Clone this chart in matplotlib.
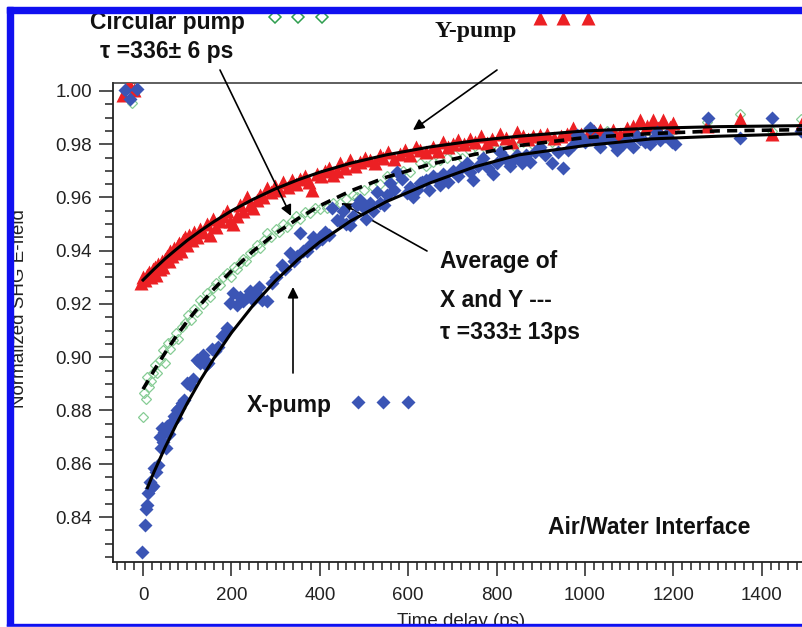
import matplotlib
matplotlib.use("Agg")
import matplotlib.pyplot as plt
from matplotlib.lines import Line2D
from matplotlib.patches import Rectangle
from matplotlib.ticker import MultipleLocator

plt.rcParams['font.family'] = ['Liberation Sans', 'DejaVu Sans']

# ---- data ----
# Y-pump (red triangles)
t_ypump = [-45, -32, -20, -5, 0, 5, 10, 14, 18, 22, 27, 30, 34, 38, 42, 46, 50, 54, 58, 62, 66, 70, 74, 78, 82,
           86, 90, 95, 100, 105, 110, 115, 122, 129, 136, 145, 152, 158, 165, 174, 182, 190, 197, 204, 212,
           219, 226, 235, 242, 249, 257, 265, 272, 280, 290, 299, 308, 317, 327, 337, 346, 355, 366, 375,
           382, 394, 403, 412, 421, 430, 438, 446, 457, 468, 480, 491, 502, 513, 525, 535, 543, 555, 568,
           581, 592, 605, 617, 627, 640, 656, 667, 679, 690, 702, 713, 727, 740, 752, 765, 778, 790, 808,
           822, 835, 846, 860, 870, 882, 898, 914, 930, 945, 959, 973, 990, 1005, 1020, 1034, 1050, 1063,
           1080, 1095, 1109, 1124, 1140, 1154, 1165, 1177, 1192, 1200, 1276, 1350, 1423, 1490]
v_ypump = [0.9985, 1.0026, 1.0005, 0.928, 0.930, 0.929, 0.931, 0.932, 0.930, 0.933, 0.934, 0.931, 0.935, 0.933,
           0.936, 0.934, 0.937, 0.938, 0.936, 0.940, 0.938, 0.941, 0.939, 0.942, 0.943, 0.940, 0.944, 0.945,
           0.942, 0.946, 0.944, 0.947, 0.945, 0.948, 0.947, 0.950, 0.946, 0.952, 0.949, 0.951, 0.953, 0.955,
           0.951, 0.950, 0.953, 0.957, 0.955, 0.960, 0.957, 0.956, 0.959, 0.961, 0.960, 0.9635, 0.962, 0.9645,
           0.963, 0.966, 0.964, 0.9665, 0.965, 0.967, 0.968, 0.966, 0.963, 0.969, 0.968, 0.970, 0.971, 0.9685,
           0.970, 0.973, 0.971, 0.974, 0.972, 0.9735, 0.975, 0.974, 0.973, 0.976, 0.975, 0.977, 0.9745, 0.9765,
           0.978, 0.976, 0.979, 0.978, 0.977, 0.979, 0.9775, 0.981, 0.979, 0.980, 0.9815, 0.980, 0.982, 0.981,
           0.983, 0.9805, 0.982, 0.984, 0.9825, 0.981, 0.9845, 0.983, 0.982, 0.983, 0.9835, 0.984, 0.9825,
           0.983, 0.984, 0.986, 0.984, 0.983, 0.985, 0.9855, 0.984, 0.9855, 0.984, 0.986, 0.987, 0.989, 0.987,
           0.989, 0.986, 0.989, 0.9865, 0.988, 0.987, 0.9895, 0.984, 0.988]

# X-pump (blue diamonds)
t_xpump = [-41, -29, -14, -2, 4, 6, 9, 11, 15, 18, 22, 25, 30, 34, 38, 40, 43, 45, 48, 52, 55, 58, 62, 66, 70,
           74, 77, 82, 88, 93, 99, 106, 112, 122, 129, 136, 142, 147, 155, 162, 170, 178, 185, 190, 197, 204,
           212, 219, 227, 235, 243, 249, 256, 263, 270, 280, 291, 300, 314, 322, 333, 341, 348, 355, 362, 371,
           378, 385, 392, 400, 405, 412, 420, 427, 439, 446, 452, 460, 468, 476, 484, 491, 500, 505, 513, 520,
           529, 537, 545, 552, 559, 567, 575, 585, 597, 605, 611, 620, 627, 631, 641, 648, 656, 665, 672, 679,
           690, 701, 712, 720, 733, 740, 747, 758, 769, 780, 792, 800, 808, 820, 830, 837, 847, 857, 866, 876,
           887, 898, 910, 925, 938, 950, 962, 975, 982, 989, 1000, 1011, 1022, 1034, 1043, 1052, 1062, 1072,
           1085, 1095, 1109, 1117, 1124, 1135, 1147, 1155, 1163, 1170, 1180, 1186, 1196, 1204, 1278, 1350,
           1423, 1488]
v_xpump = [1.0004, 0.997, 1.0008, 0.827, 0.837, 0.843, 0.8445, 0.849, 0.853, 0.851, 0.8515, 0.8585, 0.857,
           0.8595, 0.870, 0.866, 0.8735, 0.868, 0.872, 0.866, 0.874, 0.871, 0.875, 0.8755, 0.878, 0.877, 0.880,
           0.881, 0.883, 0.884, 0.8905, 0.8895, 0.892, 0.899, 0.898, 0.901, 0.897, 0.898, 0.903, 0.9025, 0.904,
           0.908, 0.909, 0.911, 0.9205, 0.924, 0.9195, 0.9225, 0.921, 0.9227, 0.925, 0.9215, 0.924, 0.9265,
           0.9215, 0.921, 0.928, 0.930, 0.9346, 0.933, 0.939, 0.936, 0.938, 0.9467, 0.940, 0.940, 0.942, 0.945,
           0.943, 0.945, 0.9445, 0.947, 0.946, 0.956, 0.9515, 0.951, 0.955, 0.950, 0.9497, 0.953, 0.957, 0.959,
           0.956, 0.952, 0.958, 0.955, 0.962, 0.958, 0.957, 0.961, 0.9654, 0.963, 0.9696, 0.967, 0.9617, 0.964,
           0.960, 0.963, 0.9655, 0.966, 0.9665, 0.963, 0.968, 0.967, 0.9647, 0.969, 0.966, 0.970, 0.968, 0.971,
           0.973, 0.9695, 0.9666, 0.972, 0.975, 0.971, 0.969, 0.973, 0.977, 0.975, 0.972, 0.974, 0.976, 0.973,
           0.976, 0.9733, 0.977, 0.979, 0.976, 0.973, 0.977, 0.971, 0.978, 0.980, 0.9835, 0.983, 0.981, 0.986,
           0.982, 0.979, 0.982, 0.984, 0.981, 0.978, 0.980, 0.9816, 0.979, 0.983, 0.982, 0.981, 0.980, 0.9825,
           0.9846, 0.9816, 0.983, 0.983, 0.981, 0.980, 0.990, 0.9825, 0.990, 0.985]

# Circular pump (open green diamonds)
t_circ = [-30, -25, 0, 3, 6, 9, 13, 18, 22, 27, 32, 38, 45, 50, 57, 62, 68, 74, 80, 88, 95, 102, 108, 115, 122,
          129, 136, 145, 152, 158, 165, 174, 182, 190, 198, 205, 212, 219, 227, 234, 241, 249, 257, 265, 273,
          280, 290, 300, 308, 317, 326, 337, 346, 355, 366, 378, 389, 400, 416, 430, 446, 460, 475, 484, 500,
          520, 535, 552, 570, 588, 605, 627, 640, 656, 672, 688, 705, 722, 740, 760, 780, 800, 820, 840, 860,
          880, 900, 925, 950, 975, 1000, 1025, 1050, 1075, 1100, 1125, 1150, 1175, 1200, 1276, 1350, 1423, 1488]
v_circ = [0.9985, 0.9955, 0.8776, 0.8866, 0.8845, 0.8926, 0.889, 0.891, 0.894, 0.897, 0.894, 0.899, 0.9027,
          0.898, 0.9054, 0.903, 0.9065, 0.909, 0.907, 0.9114, 0.913, 0.9159, 0.914, 0.918, 0.917, 0.9215, 0.920,
          0.924, 0.9225, 0.926, 0.928, 0.927, 0.930, 0.9316, 0.930, 0.934, 0.933, 0.9354, 0.937, 0.936, 0.939,
          0.940, 0.942, 0.941, 0.944, 0.9467, 0.945, 0.948, 0.947, 0.950, 0.949, 0.951, 0.953, 0.952, 0.9545,
          0.954, 0.956, 0.9555, 0.956, 0.958, 0.958, 0.9595, 0.961, 0.960, 0.963, 0.964, 0.965, 0.968, 0.967,
          0.970, 0.9695, 0.973, 0.972, 0.9733, 0.974, 0.975, 0.976, 0.975, 0.9775, 0.977, 0.979, 0.978, 0.980,
          0.9795, 0.981, 0.980, 0.982, 0.981, 0.983, 0.982, 0.984, 0.983, 0.985, 0.9835, 0.985, 0.986, 0.9845,
          0.9875, 0.9855, 0.9885, 0.9915, 0.985, 0.9895]

# fitted curves
t_fit = [0, 25, 50, 75, 100, 130, 160, 200, 250, 300, 350, 400, 470, 550, 650, 750, 850, 1000, 1150, 1300, 1500]
fit_ypump = [0.929, 0.9331, 0.9370, 0.9405, 0.9439, 0.9475, 0.9509, 0.9550, 0.9594, 0.9633, 0.9666, 0.9695,
             0.9729, 0.9760, 0.9790, 0.9813, 0.9830, 0.9850, 0.9860, 0.9866, 0.9870]
fit_avg = [0.888, 0.8951, 0.9017, 0.9079, 0.9135, 0.9198, 0.9256, 0.9324, 0.9400, 0.9465, 0.9520, 0.9569,
           0.9625, 0.9676, 0.9725, 0.9762, 0.9795, 0.9825, 0.9840, 0.9850, 0.9855]
t_fit_x = [10, 25, 50, 75, 100, 130, 160, 200, 250, 300, 350, 400, 470, 550, 650, 750, 850, 1000, 1150, 1300, 1500]
fit_xpump = [0.851, 0.857, 0.8662, 0.8747, 0.8827, 0.8915, 0.8995, 0.9092, 0.9197, 0.9288, 0.9366, 0.9433,
             0.9512, 0.9584, 0.9655, 0.9715, 0.9760, 0.9795, 0.9820, 0.9830, 0.9840]

W, H = 803, 627


def fx(x):
    return x / W


def fy(y):
    return 1 - y / H


red = '#ec2024'
blue = '#3b55b5'
green_light = '#86cc94'
green_dark = '#2f9e50'

fig = plt.figure(figsize=(W / 100, H / 100), dpi=100)
ax = fig.add_axes([fx(113), fy(562), (806 - 113) / W, (562 - 83) / H])

ax.plot(t_circ, v_circ, 'D', ms=5.2, mfc='none', mec=green_light, mew=0.9, zorder=2)
ax.plot(t_ypump, v_ypump, '^', ms=9.5, color=red, mec='none', zorder=3)
ax.plot(t_xpump, v_xpump, 'D', ms=7.2, color=blue, mec='none', zorder=4)

ax.plot(t_fit, fit_ypump, '-', color='k', lw=2.2, zorder=5)
ax.plot(t_fit_x, fit_xpump, '-', color='k', lw=2.2, zorder=5)
ax.plot(t_fit, fit_avg, '--', color='k', lw=2.6, dashes=(2.8, 2.0), zorder=5)

ax.set_xlim(-68, 1500)
ax.set_ylim(0.8231, 1.003)
ax.xaxis.set_major_locator(MultipleLocator(200))
ax.xaxis.set_minor_locator(MultipleLocator(20))
ax.yaxis.set_major_locator(MultipleLocator(0.02))
ax.yaxis.set_minor_locator(MultipleLocator(0.005))
ax.yaxis.set_major_formatter(matplotlib.ticker.FormatStrFormatter('%.2f'))
ax.tick_params(which='major', direction='out', length=10, width=1.1, labelsize=13.5, pad=5, colors='#222222')
ax.tick_params(which='minor', direction='out', length=5.5, width=1.1, colors='#222222')
ax.tick_params(axis='x', which='major', pad=8)
ax.tick_params(top=False, right=False, which='both')
ax.spines['right'].set_visible(False)
for s in ['left', 'bottom']:
    ax.spines[s].set_linewidth(1.3)
    ax.spines[s].set_color('#222222')
ax.spines['top'].set_linewidth(1.1)
ax.spines['top'].set_color('#333333')

# axis labels (cut by the frame as in the picture)
fig.text(fx(20), fy(309), 'Normalized SHG E-field', rotation=90, ha='center', va='center',
         fontsize=13.5, color='#222222')
fig.text(fx(397), fy(613), 'Time delay (ps)', ha='left', va='top', fontsize=13.5, color='#222222')

# annotations
bold = dict(fontsize=16.5, fontweight='bold', color='#111111')
fig.text(fx(90), fy(29), 'Circular pump', ha='left', va='baseline', **bold)
fig.text(fx(100), fy(58), 'τ =336± 6 ps', ha='left', va='baseline', **bold)
fig.text(fx(435), fy(37), 'Y-pump', ha='left', va='baseline', fontsize=17, fontweight='bold',
         family='Liberation Serif', color='#111111')
fig.text(fx(440), fy(268), 'Average of', ha='left', va='baseline', **bold)
fig.text(fx(440), fy(307), 'X and Y ---', ha='left', va='baseline', **bold)
fig.text(fx(440), fy(339), 'τ =333± 13ps', ha='left', va='baseline', **bold)
fig.text(fx(247), fy(412), 'X-pump', ha='left', va='baseline', **bold)
fig.text(fx(548), fy(534), 'Air/Water Interface', ha='left', va='baseline', **bold)

# key symbols beside the labels
fig.add_artist(Line2D([fx(275), fx(298), fx(322)], [fy(17)] * 3, ls='none', marker='D', ms=6.5,
                      mfc='none', mec=green_dark, mew=1.1, transform=fig.transFigure))
fig.add_artist(Line2D([fx(540), fx(563), fx(588)], [fy(18)] * 3, ls='none', marker='^', ms=10,
                      color=red, mec='none', transform=fig.transFigure))
fig.add_artist(Line2D([fx(358), fx(383), fx(408)], [fy(402)] * 3, ls='none', marker='D', ms=7.2,
                      color=blue, mec='none', transform=fig.transFigure))

arrow = dict(arrowstyle='-|>', color='k', lw=1.2, mutation_scale=16, shrinkA=0, shrinkB=0)
ax.annotate('', xy=(fx(291), fy(216)), xytext=(fx(220), fy(70)), xycoords='figure fraction',
            textcoords='figure fraction', arrowprops=arrow, annotation_clip=False)
ax.annotate('', xy=(fx(413), fy(130)), xytext=(fx(497), fy(70)), xycoords='figure fraction',
            textcoords='figure fraction', arrowprops=arrow, annotation_clip=False)
ax.annotate('', xy=(fx(341), fy(203)), xytext=(fx(427), fy(251)), xycoords='figure fraction',
            textcoords='figure fraction', arrowprops=arrow, annotation_clip=False)
ax.annotate('', xy=(fx(293), fy(287)), xytext=(fx(293), fy(373)), xycoords='figure fraction',
            textcoords='figure fraction', arrowprops=arrow, annotation_clip=False)

# blue frame of the picture
frame_blue = '#1010f0'
fig.add_artist(Rectangle((0, 0), fx(7.5), 1, color='white', transform=fig.transFigure, zorder=20))
fig.add_artist(Rectangle((fx(7.5), fy(626)), fx(13) - fx(7.5), fy(7) - fy(626), color=frame_blue,
                         transform=fig.transFigure, zorder=21))
fig.add_artist(Rectangle((fx(7.5), fy(12.5)), 1, fy(7) - fy(12.5), color=frame_blue,
                         transform=fig.transFigure, zorder=21))
fig.add_artist(Rectangle((fx(7.5), 0), 1, fy(624), color=frame_blue,
                         transform=fig.transFigure, zorder=21))
fig.add_artist(Rectangle((0, 0), 1, fy(626.5), color='white', transform=fig.transFigure, zorder=22))
fig.add_artist(Rectangle((0, fy(7)), 1, 1, color='white', transform=fig.transFigure, zorder=20))

fig.savefig('out.png', dpi=100)
